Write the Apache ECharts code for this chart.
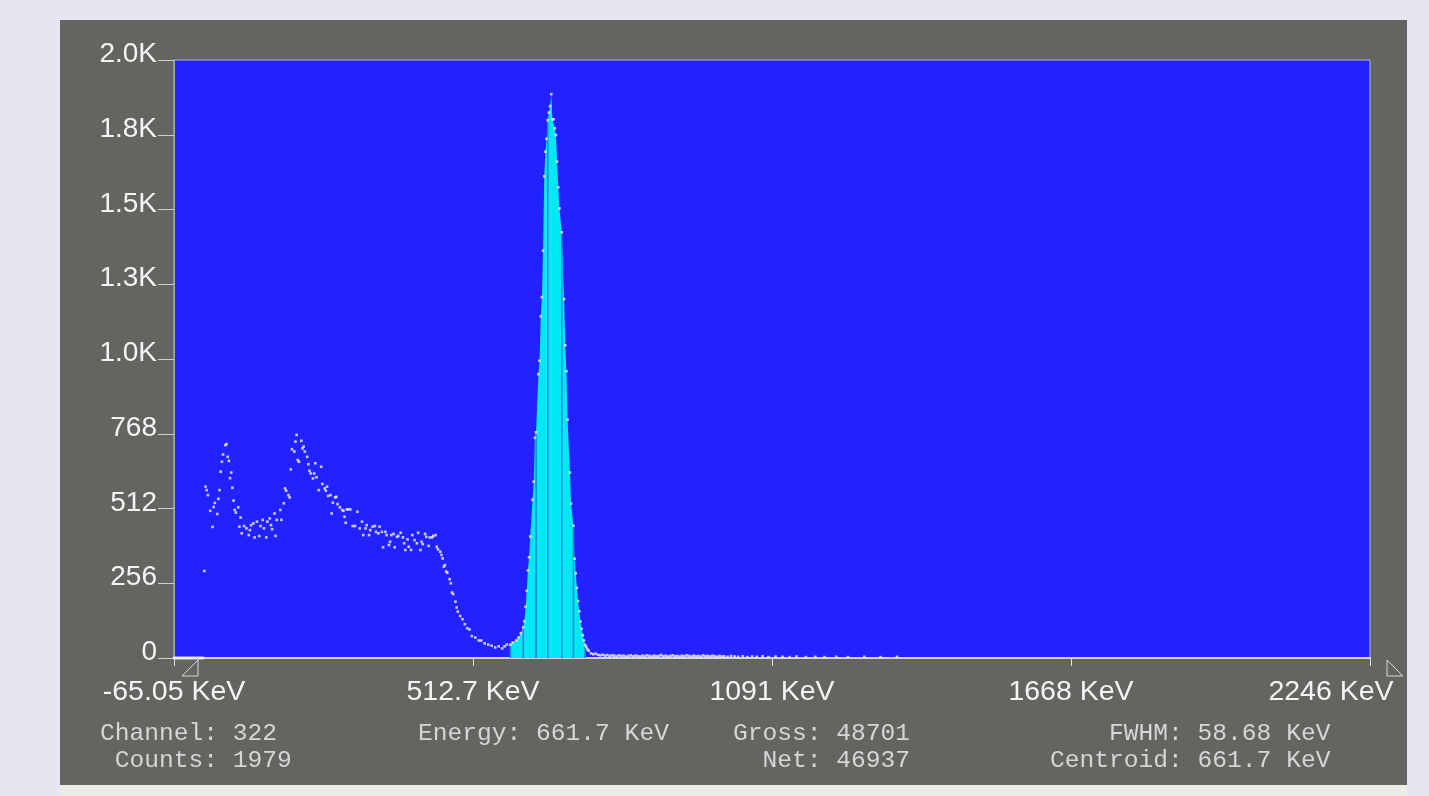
<!DOCTYPE html>
<html>
<head>
<meta charset="utf-8">
<script src="https://cdn.jsdelivr.net/npm/echarts@6/dist/echarts.min.js"></script>
<style>
html,body{margin:0;padding:0;background:#e7e5f2;}
#chart{width:1429px;height:796px;}
</style>
</head>
<body>
<div id="chart"></div>
<script>
// ---- data (channel number, counts) ----
const CHANNEL = [
  0,1,2,3,4,5,6,7,8,9,10,11,12,13,14,15,16,17,18,19,20,21,22,23,24,25,
  26,27,28,29,31,33,34,35,37,38,39,40,41,42,44,45,46,47,48,49,50,51,52,53,55,56,57,58,
  60,62,64,65,66,68,69,71,73,74,76,77,79,80,82,83,84,86,87,88,91,92,94,95,96,98,99,
  100,101,103,104,105,106,107,109,110,111,112,114,115,116,117,119,120,121,122,124,126,127,129,
  130,131,132,134,135,136,138,139,140,142,144,145,146,147,148,149,151,153,155,157,159,
  161,162,164,165,167,168,170,172,173,175,176,178,179,181,182,184,185,186,188,189,191,192,194,
  196,197,198,200,201,203,204,206,208,209,211,212,213,215,216,218,219,221,222,224,225,226,228,
  229,230,231,232,233,234,236,237,238,239,241,242,243,245,247,249,251,253,255,258,261,263,266,
  269,272,275,278,281,283,285,288,290,293,295,297,299,300,301,302,303,304,305,307,308,309,310,
  312,313,314,315,316,317,318,319,320,321,322,323,324,325,326,327,328,329,330,332,334,335,336,
  337,339,340,342,343,344,345,346,347,348,349,350,351,352,353,354,355,357,
  359,361,363,365,367,369,371,373,375,377,379,381,383,385,387,389,391,393,395,397,399,
  401,403,405,407,409,411,413,415,417,419,421,423,425,427,429,431,433,435,437,439,441,443,445,
  447,449,451,453,455,457,459,461,463,465,467,469,471,474,477,480,483,487,491,495,499,504,509,
  515,521,527,533,541,549,557,567,577,591,605,619
];
const COUNTS = [
  0,0,0,0,0,0,0,0,0,0,0,0,0,0,0,0,0,0,0,0,0,0,0,0,0,0,
  298,587,575,558,504,449,517,531,493,545,575,638,672,697,729,733,689,675,616,635,583,539,507,498,516,450,481,427,
  452,444,421,438,455,461,413,467,418,452,473,444,413,467,478,455,441,495,418,473,507,473,530,581,573,558,550,
  646,715,707,741,764,678,672,744,718,724,707,689,664,641,632,615,632,667,619,575,655,596,581,
  573,587,555,558,495,532,550,552,527,516,507,504,484,463,509,509,509,452,452,501,444,
  467,421,444,455,421,438,450,452,432,427,450,432,379,432,421,387,398,421,425,379,415,418,429,
  413,393,370,406,381,370,421,404,393,429,370,398,390,425,415,384,413,413,418,421,381,372,364,
  353,341,313,318,296,292,270,256,224,219,193,173,159,144,133,116,102,98,75,70,60,60,50,
  46,42,36,40,33,40,46,46,53,60,70,85,105,126,175,230,300,345,416,542,604,754,773,
  972,1018,1170,1236,1395,1650,1734,1778,1842,1868,1890,1931,1845,1845,1814,1791,1700,1612,1540,1458,1229,1071,982,
  816,635,529,453,340,290,240,195,160,125,100,78,60,45,38,30,25,16,
  13,15,11,9,11,8,10,7,9,8,6,9,7,8,5,7,9,6,8,7,5,
  8,6,9,7,5,8,6,7,10,6,8,5,7,9,6,7,5,8,6,9,7,5,8,
  6,7,5,9,6,7,5,8,6,4,7,5,6,4,7,5,4,6,3,5,4,6,3,
  5,4,3,5,3,4,3,4,3,4,3,4
];
// region of interest (channels) and its marker lines
const ROI_START = 288;
const ROI_END = 352;
const ROI_LINE_CHANNELS = [288, 299, 310, 320, 332, 342, 352];
// axis tick labels
const X_TICK_LABELS = ['-65.05 KeV', '512.7 KeV', '1091 KeV', '1668 KeV', '2246 KeV'];
const Y_TICK_LABELS = ['0', '256', '512', '768', '1.0K', '1.3K', '1.5K', '1.8K', '2.0K'];
// readout text
const INFO = {
  channel: 322, counts: 1979, energy: '661.7 KeV',
  gross: 48701, net: 46937, fwhm: '58.68 KeV', centroid: '661.7 KeV'
};

// ---- build ----
const points = CHANNEL.map((c, i) => [c, COUNTS[i]]);
const roiPoints = points.filter(p => p[0] >= ROI_START && p[0] <= ROI_END);
const countAt = {};
points.forEach(p => { countAt[p[0]] = p[1]; });
const roiLines = ROI_LINE_CHANNELS.map(c => [c, countAt[c]]);

const chart = echarts.init(document.getElementById('chart'), null, {renderer: 'canvas'});
const monoStyle = {font: '24.6px "Liberation Mono", monospace', fill: '#d6d6d6'};
const sansFamily = '"Liberation Sans", Arial, sans-serif';

chart.setOption({
  animation: false,
  backgroundColor: 'transparent',
  grid: {
    left: 174, top: 60, right: 59, bottom: 138,
    outerBoundsMode: 'none', containLabel: false,
    show: true, backgroundColor: '#2222fe', borderColor: '#b8b8d0', borderWidth: 1
  },
  xAxis: {
    type: 'value', min: 0, max: 1024, interval: 256,
    axisLine: {show: true, onZero: false, lineStyle: {color: '#d4d4d4', width: 2}},
    axisTick: {show: true, length: 8, lineStyle: {color: '#e4e4e4', width: 1}},
    splitLine: {show: false},
    axisLabel: {
      margin: 20,
      hideOverlap: false,
      formatter: v => {
        const s = X_TICK_LABELS[Math.round(v / 256)];
        return v >= 1024 ? '{last|' + s + '}' : '{n|' + s + '}';
      },
      rich: {
        n: {color: '#f4f4f4', fontFamily: sansFamily, fontSize: 28.5, lineHeight: 28},
        last: {color: '#f4f4f4', fontFamily: sansFamily, fontSize: 28.5, lineHeight: 28, padding: [0, 78, 0, 0]}
      }
    }
  },
  yAxis: {
    type: 'value', min: 0, max: 2048, interval: 256,
    axisLine: {show: true, lineStyle: {color: '#a8a8b0', width: 1}},
    axisTick: {show: true, length: 16, lineStyle: {color: '#cfcfcf', width: 1}},
    splitLine: {show: false},
    axisLabel: {
      margin: 17,
      color: '#f4f4f4',
      fontFamily: sansFamily,
      fontSize: 28,
      lineHeight: 11,
      verticalAlign: 'bottom',
      formatter: v => Y_TICK_LABELS[Math.round(v / 256)]
    }
  },
  series: [
    {
      name: 'ROI', type: 'line', data: roiPoints, symbol: 'none',
      lineStyle: {width: 0}, areaStyle: {color: '#00e8f6', opacity: 1}, z: 2
    },
    {
      name: 'ROI lines', type: 'bar', data: roiLines, barWidth: 1.5,
      itemStyle: {color: '#2a7cd6'}, z: 3
    },
    {
      name: 'Counts', type: 'scatter', data: points, symbol: 'rect', symbolSize: 2.6,
      itemStyle: {color: '#f2f2ff'}, z: 4
    }
  ],
  graphic: [
    {type: 'rect', z: -10, shape: {x: 60, y: 20, width: 1347, height: 765}, style: {fill: '#636561'}},
    {type: 'rect', z: -10, shape: {x: 60, y: 785, width: 1347, height: 11}, style: {fill: '#ecebe6'}},
    {type: 'polygon', z: 10, shape: {points: [[198, 660], [182, 676], [198, 676]]}, style: {fill: 'none', stroke: '#d8d8d8', lineWidth: 1}},
    {type: 'polygon', z: 10, shape: {points: [[1387, 660], [1387, 676], [1403, 676]]}, style: {fill: 'none', stroke: '#d8d8d8', lineWidth: 1}},
    {type: 'text', z: 10, x: 100, y: 733, style: Object.assign({text: 'Channel: ' + INFO.channel, textVerticalAlign: 'middle'}, monoStyle)},
    {type: 'text', z: 10, x: 100, y: 760, style: Object.assign({text: ' Counts: ' + INFO.counts, textVerticalAlign: 'middle'}, monoStyle)},
    {type: 'text', z: 10, x: 418, y: 733, style: Object.assign({text: 'Energy: ' + INFO.energy, textVerticalAlign: 'middle'}, monoStyle)},
    {type: 'text', z: 10, x: 733, y: 733, style: Object.assign({text: 'Gross: ' + INFO.gross, textVerticalAlign: 'middle'}, monoStyle)},
    {type: 'text', z: 10, x: 733, y: 760, style: Object.assign({text: '  Net: ' + INFO.net, textVerticalAlign: 'middle'}, monoStyle)},
    {type: 'text', z: 10, x: 1050, y: 733, style: Object.assign({text: '    FWHM: ' + INFO.fwhm, textVerticalAlign: 'middle'}, monoStyle)},
    {type: 'text', z: 10, x: 1050, y: 760, style: Object.assign({text: 'Centroid: ' + INFO.centroid, textVerticalAlign: 'middle'}, monoStyle)}
  ]
});
</script>
</body>
</html>
